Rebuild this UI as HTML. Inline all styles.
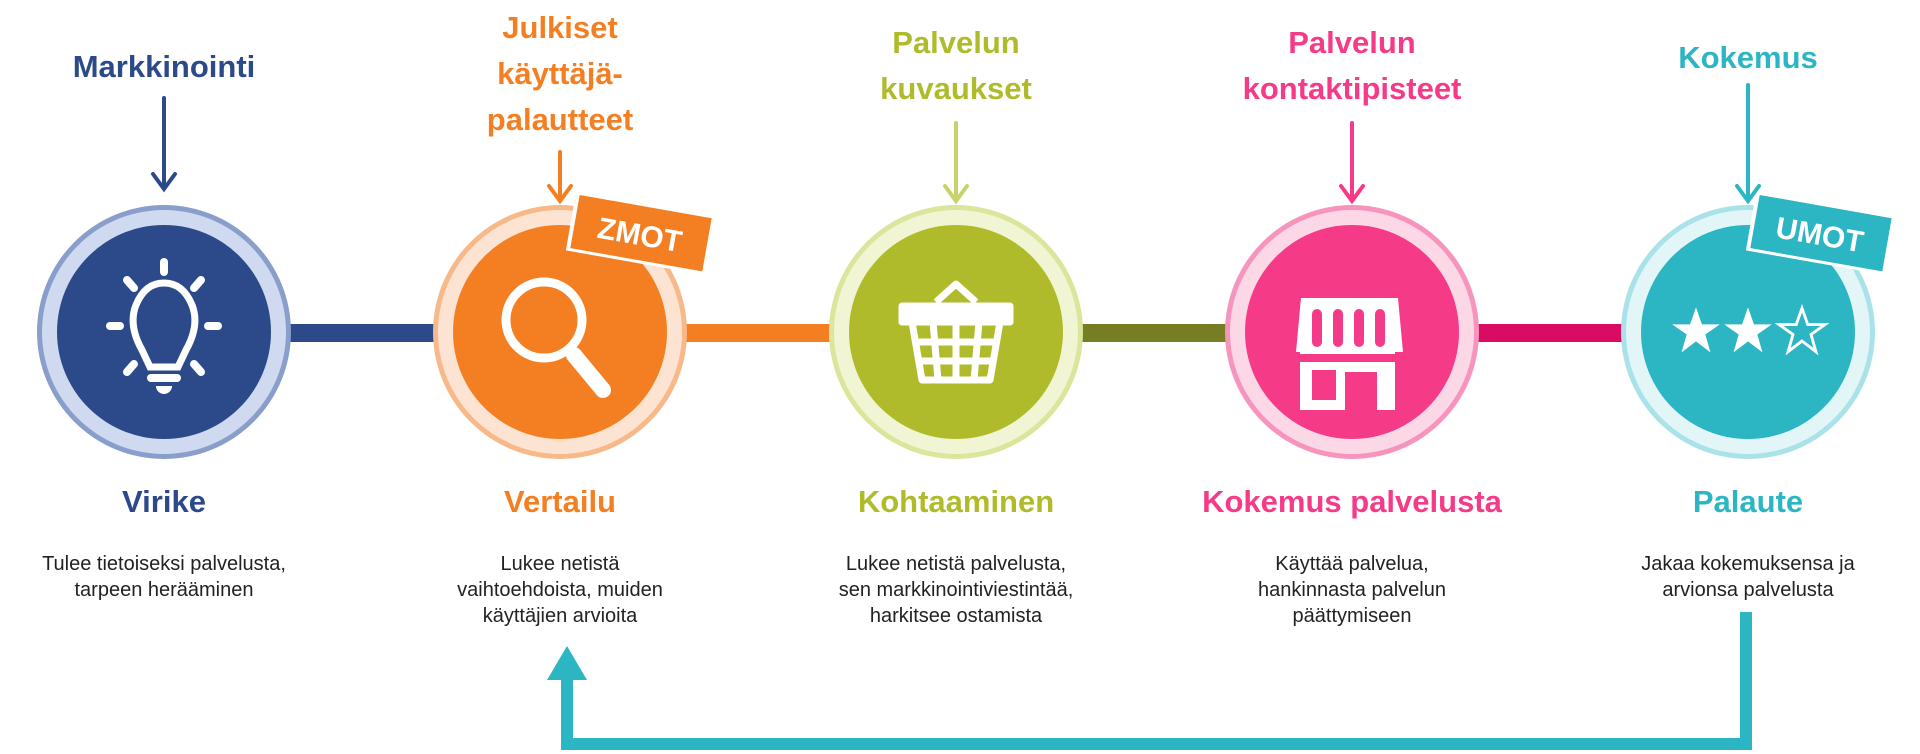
<!DOCTYPE html>
<html><head><meta charset="utf-8"><style>
html,body{margin:0;padding:0;background:#fff;width:1920px;height:754px;overflow:hidden}
svg{display:block}
.t{font-family:"Comic Sans MS","Liberation Sans",sans-serif;font-weight:bold;font-size:31px;text-anchor:middle}
.d{font-family:"Liberation Sans",sans-serif;font-size:20px;fill:#222;text-anchor:middle}
</style></head><body>
<svg width="1920" height="754" viewBox="0 0 1920 754" xmlns="http://www.w3.org/2000/svg">
<rect x="270" y="324" width="190" height="18" fill="#2c4a8a"/>
<rect x="665" y="324" width="190" height="18" fill="#f47f22"/>
<rect x="1060" y="324" width="190" height="18" fill="#777d22"/>
<rect x="1455" y="324" width="190" height="18" fill="#d90b63"/>

<g>
<circle cx="164" cy="332" r="127" fill="#8a9ecb"/><circle cx="164" cy="332" r="122" fill="#cfd9f0"/><circle cx="164" cy="332" r="107" fill="#2c4a8a"/>
<circle cx="560" cy="332" r="127" fill="#f8b98a"/><circle cx="560" cy="332" r="122" fill="#fde3d1"/><circle cx="560" cy="332" r="107" fill="#f47f22"/>
<circle cx="956" cy="332" r="127" fill="#dce59c"/><circle cx="956" cy="332" r="122" fill="#f1f5d3"/><circle cx="956" cy="332" r="107" fill="#afbb2b"/>
<circle cx="1352" cy="332" r="127" fill="#f794bd"/><circle cx="1352" cy="332" r="122" fill="#fcd8e7"/><circle cx="1352" cy="332" r="107" fill="#f53a88"/>
<circle cx="1748" cy="332" r="127" fill="#a9e2e8"/><circle cx="1748" cy="332" r="122" fill="#e2f5f7"/><circle cx="1748" cy="332" r="107" fill="#2cb5c3"/>
</g>

<g fill="none" stroke="#fff" stroke-width="8" stroke-linecap="round">
 <path d="M150 367 L142 350 Q128 325 136 305 Q145 283 164 283 Q183 283 192 305 Q200 325 186 350 L178 367 Z" stroke-width="7"/>
 <line x1="164" y1="262" x2="164" y2="272"/><line x1="127" y1="280" x2="134" y2="288"/><line x1="201" y1="280" x2="194" y2="288"/>
 <line x1="110" y1="326" x2="120" y2="326"/><line x1="208" y1="326" x2="218" y2="326"/>
 <line x1="127" y1="372" x2="134" y2="364"/><line x1="201" y1="372" x2="194" y2="364"/>
 <line x1="151" y1="378" x2="177" y2="378"/>
 <circle cx="544" cy="320" r="38" stroke-width="9"/>
 <line x1="574" y1="355" x2="603" y2="390" stroke-width="16"/>
</g>
<path d="M156 386 h16 a8 8 0 0 1 -16 0z" fill="#fff"/>
<g fill="none" stroke="#fff" stroke-width="7" stroke-linejoin="round">
 <path d="M936 302 L956 284 L976 302"/>
 <path d="M902 306 H1010 V322 H902 Z" fill="#fff"/>
 <path d="M912 322 L922 380 H990 L1000 322"/>
 <line x1="914" y1="342" x2="998" y2="342"/><line x1="917" y1="361" x2="995" y2="361"/>
 <line x1="933" y1="322" x2="938" y2="380"/><line x1="956" y1="322" x2="956" y2="380"/><line x1="979" y1="322" x2="974" y2="380"/>
</g>
<g fill="#fff">
 <path d="M1301 298 H1398 L1403 352 H1296 Z"/>
 <rect x="1300" y="352" width="95" height="58"/>
</g>
<g fill="#f53a88">
 <rect x="1312" y="309" width="10" height="38" rx="5"/><rect x="1333" y="309" width="10" height="38" rx="5"/><rect x="1354" y="309" width="10" height="38" rx="5"/><rect x="1375" y="309" width="10" height="38" rx="5"/>
 <rect x="1300" y="354" width="95" height="8"/>
 <rect x="1312" y="370" width="24" height="30"/><rect x="1345" y="372" width="32" height="38"/>
</g>
<g>
 <g transform="translate(1696,332) scale(0.85) translate(-1692,-332)"><polygon points="1692,303 1699,323 1720,323 1703,335 1709,356 1692,343 1675,356 1681,335 1664,323 1685,323" fill="#fff"/></g>
 <g transform="translate(1748,332) scale(0.85) translate(-1692,-332)"><polygon points="1692,303 1699,323 1720,323 1703,335 1709,356 1692,343 1675,356 1681,335 1664,323 1685,323" fill="#fff"/></g>
 <g transform="translate(1802,332) scale(0.82) translate(-1692,-332)"><polygon points="1692,303 1699,323 1720,323 1703,335 1709,356 1692,343 1675,356 1681,335 1664,323 1685,323" fill="none" stroke="#fff" stroke-width="3.5"/></g>
</g>

<g transform="translate(640,233) rotate(10)">
 <rect x="-70" y="-30" width="140" height="60" fill="#fff"/><rect x="-66" y="-27" width="134" height="54" fill="#f47f22"/>
 <text x="0" y="12" class="t" fill="#fff" style="font-size:30px">ZMOT</text>
</g>
<g transform="translate(1820,233) rotate(10)">
 <rect x="-70" y="-30" width="140" height="60" fill="#fff"/><rect x="-66" y="-27" width="134" height="54" fill="#2cb5c3"/>
 <text x="0" y="12" class="t" fill="#fff" style="font-size:30px">UMOT</text>
</g>

<g stroke-width="4" fill="none" stroke-linecap="round">
 <path d="M164 98 V188 M153 174 L164 189 L175 174" stroke="#2c4a8a"/>
 <path d="M560 152 V200 M549 186 L560 201 L571 186" stroke="#f47f22"/>
 <path d="M956 123 V200 M945 186 L956 201 L967 186" stroke="#c9d26a"/>
 <path d="M1352 123 V200 M1341 186 L1352 201 L1363 186" stroke="#f53a88"/>
 <path d="M1748 85 V200 M1737 186 L1748 201 L1759 186" stroke="#2cb5c3"/>
</g>

<text class="t" x="164" y="77" fill="#2c4a8a">Markkinointi</text>
<text class="t" x="560" y="38" fill="#f47f22">Julkiset</text>
<text class="t" x="560" y="84" fill="#f47f22">käyttäjä-</text>
<text class="t" x="560" y="130" fill="#f47f22">palautteet</text>
<text class="t" x="956" y="53" fill="#afbb2b">Palvelun</text>
<text class="t" x="956" y="99" fill="#afbb2b">kuvaukset</text>
<text class="t" x="1352" y="53" fill="#f53a88">Palvelun</text>
<text class="t" x="1352" y="99" fill="#f53a88">kontaktipisteet</text>
<text class="t" x="1748" y="68" fill="#2cb5c3">Kokemus</text>

<text class="t" x="164" y="512" fill="#2c4a8a">Virike</text>
<text class="t" x="560" y="512" fill="#f47f22">Vertailu</text>
<text class="t" x="956" y="512" fill="#afbb2b">Kohtaaminen</text>
<text class="t" x="1352" y="512" fill="#f53a88">Kokemus palvelusta</text>
<text class="t" x="1748" y="512" fill="#2cb5c3">Palaute</text>

<text class="d" x="164" y="570">Tulee tietoiseksi palvelusta,</text>
<text class="d" x="164" y="596">tarpeen herääminen</text>
<text class="d" x="560" y="570">Lukee netistä</text>
<text class="d" x="560" y="596">vaihtoehdoista, muiden</text>
<text class="d" x="560" y="622">käyttäjien arvioita</text>
<text class="d" x="956" y="570">Lukee netistä palvelusta,</text>
<text class="d" x="956" y="596">sen markkinointiviestintää,</text>
<text class="d" x="956" y="622">harkitsee ostamista</text>
<text class="d" x="1352" y="570">Käyttää palvelua,</text>
<text class="d" x="1352" y="596">hankinnasta palvelun</text>
<text class="d" x="1352" y="622">päättymiseen</text>
<text class="d" x="1748" y="570">Jakaa kokemuksensa ja</text>
<text class="d" x="1748" y="596">arvionsa palvelusta</text>

<path d="M1746 612 V744 H567 V676" fill="none" stroke="#2cb5c3" stroke-width="12"/>
<polygon points="567,646 547,680 587,680" fill="#2cb5c3"/>
</svg>
</body></html>
